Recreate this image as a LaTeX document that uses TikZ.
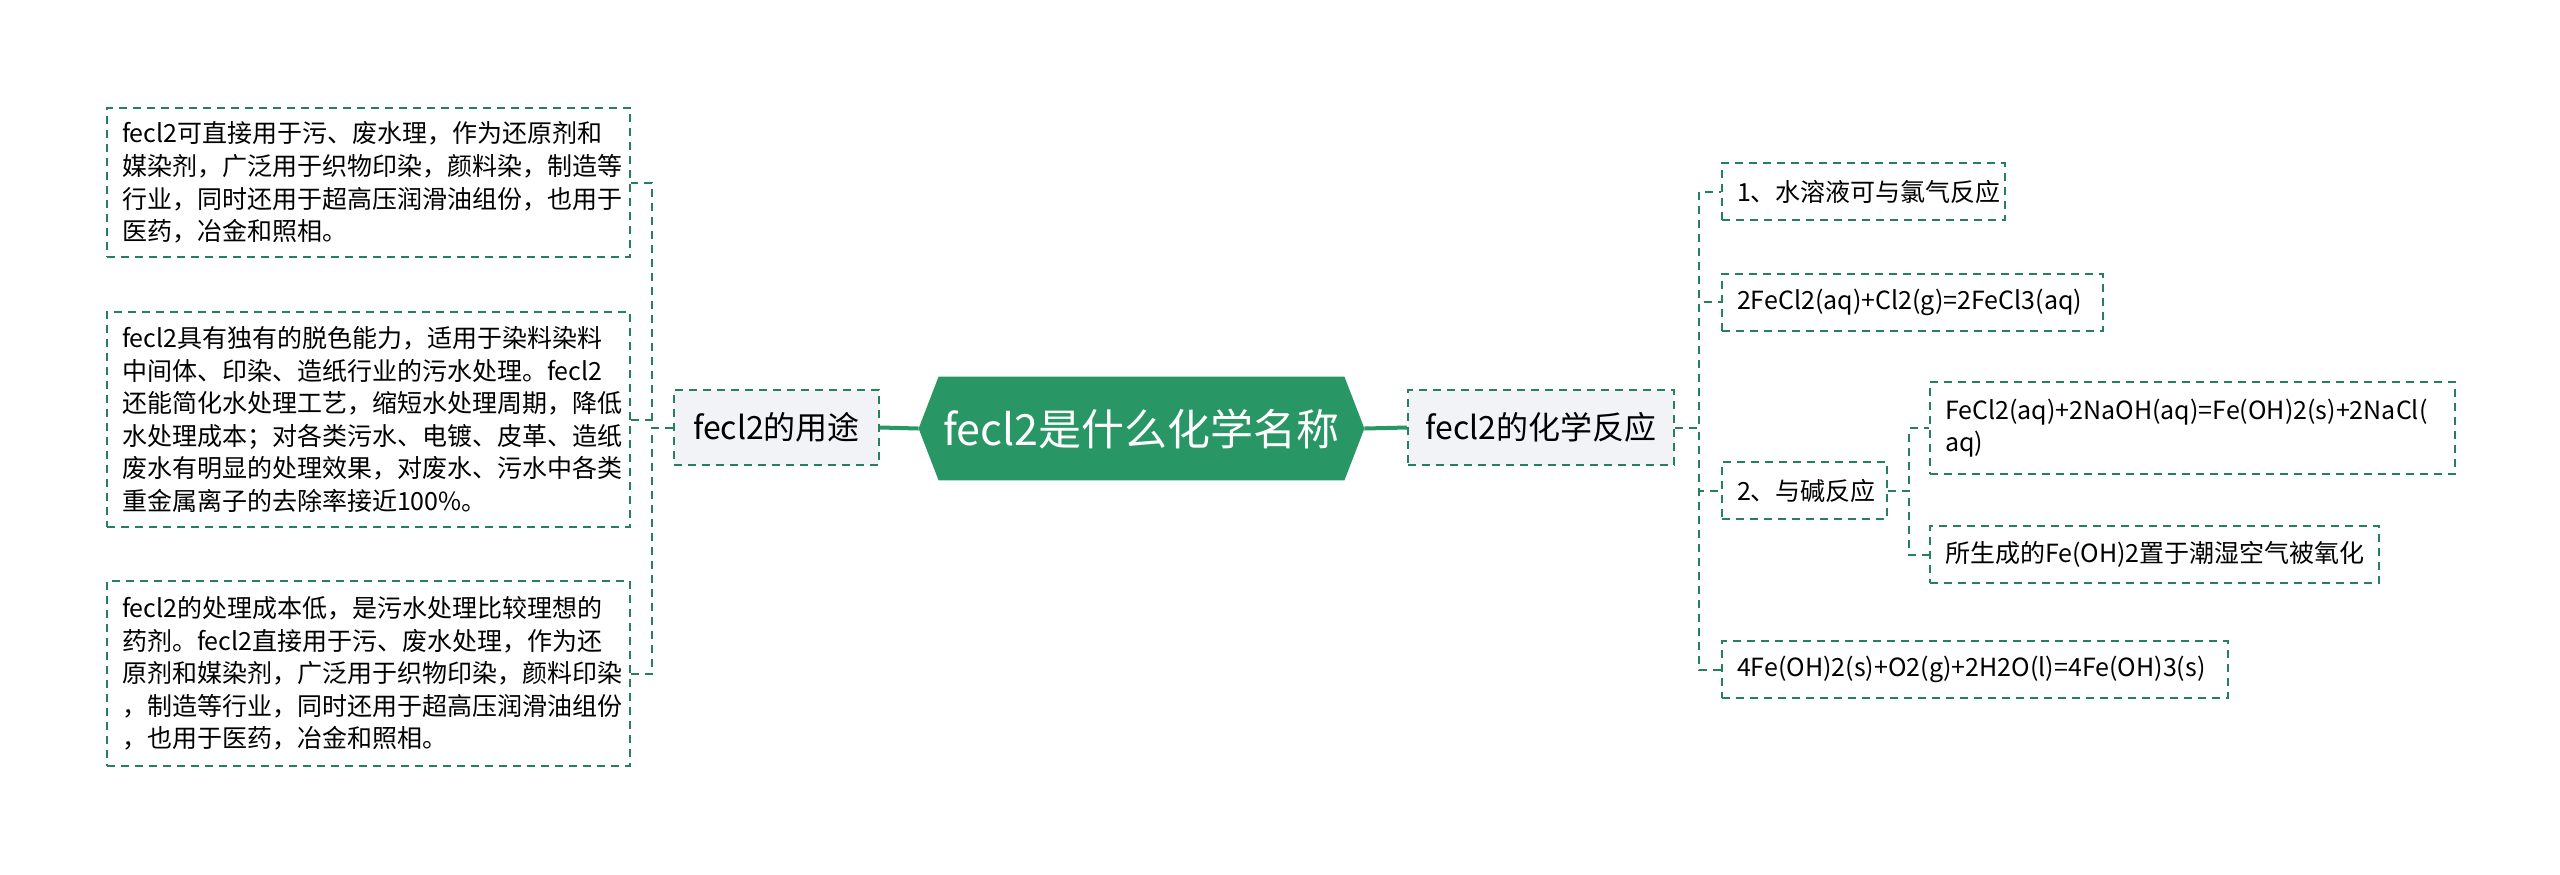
\documentclass[tikz,border=0pt]{standalone}
\usepackage{fontspec}
\setmainfont{Noto Sans CJK SC}
\usepackage{xcolor}
\usepackage{tikz}
\usetikzlibrary{shapes,arrows,positioning,backgrounds}
\definecolor{rootgreen}{RGB}{41,150,102}
\definecolor{linegreen}{RGB}{38,128,92}
\definecolor{topicfill}{RGB}{241,243,246}

\begin{document}
\begin{tikzpicture}[x=0.5pt, y=-0.5pt,
    root/.style={text=white, font=\fontsize{21.5pt}{25pt}\selectfont, minimum width=222.5pt, minimum height=51.5pt, inner sep=0pt},
    topic/.style={rectangle, draw=linegreen, fill=topicfill, dash pattern=on 4pt off 3pt, line width=1pt, font=\fontsize{16pt}{19pt}\selectfont, minimum height=37.5pt, inner sep=0pt},
    leaf/.style={rectangle, draw=linegreen, fill=white, dash pattern=on 4pt off 3pt, line width=1pt, font=\fontsize{12.5pt}{16.3pt}\selectfont, align=left, inner xsep=7.5pt, inner ysep=7pt, minimum height=28.5pt, anchor=west},
    link/.style={draw=linegreen, line width=1pt, dash pattern=on 4pt off 3pt},
    trunk/.style={draw=rootgreen, line width=2pt}]

    \useasboundingbox (0,0) rectangle (2560,874);

    \node [root] (root) at (1141.5,428.5) {fecl2是什么化学名称};
    \begin{scope}[on background layer]
        \fill [rootgreen] (root.west) -- ([xshift=10pt]root.north west) -- ([xshift=-10pt]root.north east)
            -- (root.east) -- ([xshift=-10pt]root.south east) -- ([xshift=10pt]root.south west) -- cycle;
    \end{scope}

    \node [topic, minimum width=102.5pt] (use) at (776.5,427.5) {fecl2的用途};
    \node [topic, minimum width=133pt] (chem) at (1541,427.5) {fecl2的化学反应};

    % left side
    \node [leaf, text width=246.5pt, minimum height=73.5pt] (u1) at (106,182.5)
        {fecl2可直接用于污、废水理，作为还原剂和\\媒染剂，广泛用于织物印染，颜料染，制造等\\行业，同时还用于超高压润滑油组份，也用于\\医药，冶金和照相。};
    \node [leaf, text width=246.5pt, minimum height=107.5pt] (u2) at (106,419.5)
        {fecl2具有独有的脱色能力，适用于染料染料\\中间体、印染、造纸行业的污水处理。fecl2\\还能简化水处理工艺，缩短水处理周期，降低\\水处理成本；对各类污水、电镀、皮革、造纸\\废水有明显的处理效果，对废水、污水中各类\\重金属离子的去除率接近100\%。};
    \node [leaf, text width=246.5pt, minimum height=92.5pt] (u3) at (106,673.5)
        {fecl2的处理成本低，是污水处理比较理想的\\药剂。fecl2直接用于污、废水处理，作为还\\原剂和媒染剂，广泛用于织物印染，颜料印染\\，制造等行业，同时还用于超高压润滑油组份\\，也用于医药，冶金和照相。};

    % right side
    \node [leaf, text width=126.5pt] (r1) at (1721,191.5) {1、水溶液可与氯气反应};
    \node [leaf, text width=175.5pt] (r2) at (1721,302) {2FeCl2(aq)+Cl2(g)=2FeCl3(aq)};
    \node [leaf, text width=67.5pt] (r3) at (1721,490.5) {2、与碱反应};
    \node [leaf, text width=247.5pt, minimum height=46pt] (r3a) at (1929,428) {FeCl2(aq)+2NaOH(aq)=Fe(OH)2(s)+2NaCl(\\aq)};
    \node [leaf, text width=209.5pt] (r3b) at (1929,554.5) {所生成的Fe(OH)2置于潮湿空气被氧化};
    \node [leaf, text width=238pt] (r4) at (1721,669.5) {4Fe(OH)2(s)+O2(g)+2H2O(l)=4Fe(OH)3(s)};

    \draw [trunk] (use.east) -- (root.west);
    \draw [trunk] (root.east) -- (chem.west);
    \foreach \n in {u1,u2,u3}
        \draw [link] (use.west) -- ++(-21,0) |- (\n.east);
    \foreach \n in {r1,r2,r3,r4}
        \draw [link] (chem.east) -- ++(24,0) |- (\n.west);
    \foreach \n in {r3a,r3b}
        \draw [link] (r3.east) -- ++(21,0) |- (\n.west);
\end{tikzpicture}
\end{document}
